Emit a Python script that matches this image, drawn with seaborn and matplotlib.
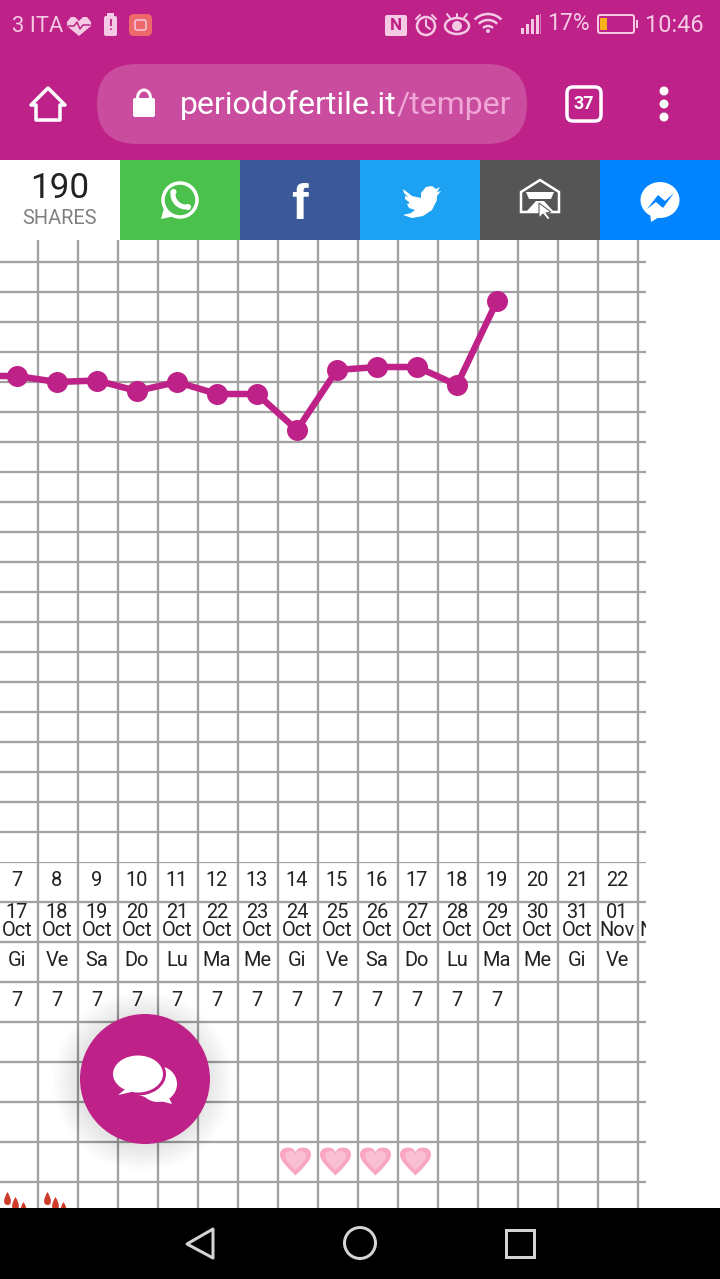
import matplotlib
matplotlib.use('Agg')
import matplotlib.pyplot as plt
from matplotlib.patches import Rectangle, Circle, Ellipse, Polygon, FancyBboxPatch, Arc
from matplotlib.path import Path
import numpy as np
import seaborn as sns

# chart values
line_days = [6, 7, 8, 9, 10, 11, 12, 13, 14, 15, 16, 17, 18, 19]
temps = [36.52, 36.52, 36.50, 36.505, 36.47, 36.50, 36.46, 36.46, 36.34, 36.54, 36.55, 36.55, 36.49, 36.77]

cycle_days = [7, 8, 9, 10, 11, 12, 13, 14, 15, 16, 17, 18, 19, 20, 21, 22, 23]
date_nums = ['17', '18', '19', '20', '21', '22', '23', '24', '25', '26', '27', '28', '29', '30', '31', '01', '02']
date_months = ['Oct'] * 15 + ['Nov', 'Nov']
weekdays = ['Gi', 'Ve', 'Sa', 'Do', 'Lu', 'Ma', 'Me', 'Gi', 'Ve', 'Sa', 'Do', 'Lu', 'Ma', 'Me', 'Gi', 'Ve', 'Sa']
row_sevens = ['7'] * 13 + [''] * 4
heart_days = [14, 15, 16, 17]
drop_days = [7, 8]

MAGENTA = '#be2187'
GRID = '#a2a2a2'
PINK_TXT = '#f4c9e4'
PX = 0.72  # points per pixel at dpi 100

sns.set_theme(style='white')
plt.rcParams['font.family'] = ['Roboto', 'DejaVu Sans']
plt.rcParams['patch.force_edgecolor'] = False

fig = plt.figure(figsize=(7.2, 12.79), dpi=100, facecolor='white')
W, H = 720, 1279


def px_axes(x0, y0, x1, y1):
    return fig.add_axes([x0 / W, 1 - y1 / H, (x1 - x0) / W, (y1 - y0) / H])


xlim = (7 - 17 / 40, 7 + 629 / 40)
grid_x = [d + 0.525 for d in cycle_days[:-1]]

# temperature grid, one line every 0.1 degrees
ax = px_axes(0, 240, 646, 862)
ax.set_xlim(xlim)
ax.set_ylim(36.5 + (382 - 862) / 300, 36.5 + (382 - 240) / 300)
ax.axis('off')
ax.vlines(grid_x, *ax.get_ylim(), color=GRID, lw=2.3 * PX, zorder=1)
ax.hlines(np.round(np.arange(35.0, 36.95, 0.1), 1), *xlim, color=GRID, lw=2.3 * PX, zorder=1)
sns.lineplot(x=line_days, y=temps, ax=ax, color=MAGENTA, linewidth=6.5 * PX, marker='o',
             markersize=21 * PX, markeredgewidth=0, zorder=3, legend=False)
ax.set_xlim(xlim)

# table under the chart
tab = px_axes(0, 862, 646, 1208)
tab.set_xlim(xlim)
tab.set_ylim((1208 - 862) / 40, 0)
tab.axis('off')
tab.vlines(grid_x, *tab.get_ylim(), color=GRID, lw=2.3 * PX, zorder=1)
tab.hlines(range(0, 9), *xlim, color=GRID, lw=2.3 * PX, zorder=1)

txt_kw = dict(ha='center', va='center', color='#222222', fontsize=20 * PX, clip_on=True)
for i, d in enumerate(cycle_days):
    tab.text(d, 0.47, str(d), **txt_kw)
    tab.text(d, 1.27, date_nums[i], **txt_kw)
    tab.text(d, 1.71, date_months[i], **txt_kw)
    tab.text(d, 2.47, weekdays[i], **txt_kw)
    tab.text(d, 3.47, row_sevens[i], **txt_kw)

heart = Path([(0, -0.9), (-0.55, -0.35), (-1.0, 0.05), (-1.0, 0.45), (-1.0, 0.8), (-0.7, 0.9), (-0.45, 0.9),
              (-0.25, 0.9), (-0.08, 0.8), (0, 0.6), (0.08, 0.8), (0.25, 0.9), (0.45, 0.9), (0.7, 0.9),
              (1.0, 0.8), (1.0, 0.45), (1.0, 0.05), (0.55, -0.35), (0, -0.9)],
             [1, 4, 4, 4, 4, 4, 4, 4, 4, 4, 4, 4, 4, 4, 4, 4, 4, 4, 4])
hx = [d - 0.04 for d in heart_days]
tab.scatter(hx, [7.47] * 4, marker=heart, s=(31 * PX) ** 2, color='#f8a6c2', linewidths=0, zorder=4)
tab.scatter(hx, [7.44] * 4, marker=heart, s=(21 * PX) ** 2, color='#f9c0d4', linewidths=0, zorder=5)

drop = Path([(0, 1), (0.7, -0.1), (0.7, -1), (0, -1), (-0.7, -1), (-0.7, -0.1), (0, 1)], [1, 4, 4, 4, 4, 4, 4])
for d in drop_days:
    tab.scatter([d - 0.24, d - 0.04, d + 0.16], [8.4, 8.52, 8.64], marker=drop, s=(13 * PX) ** 2,
                color='#cf3d2a', linewidths=0, zorder=5)

# phone chrome on top
ov = fig.add_axes([0, 0, 1, 1], zorder=5)
ov.set_xlim(0, W)
ov.set_ylim(H, 0)
ov.axis('off')


def rect(x0, y0, x1, y1, color, **kw):
    ov.add_patch(Rectangle((x0, y0), x1 - x0, y1 - y0, facecolor=color, edgecolor='none', **kw))


def rbox(x0, y0, x1, y1, r, fc='none', ec='none', lw=0):
    ov.add_patch(FancyBboxPatch((x0, y0), x1 - x0, y1 - y0, boxstyle='round,pad=0,rounding_size=%s' % r,
                                facecolor=fc, edgecolor=ec, linewidth=lw * PX))


rect(0, 0, 720, 160, MAGENTA)
rect(0, 1208, 720, 1279, 'black')

# status bar
ov.text(12, 26, '3 ITA', color=PINK_TXT, fontsize=22 * PX, va='center')
ov.add_patch(Polygon([(67, 22), (71, 17), (75, 17), (79, 21), (83, 17), (87, 17), (91, 22), (91, 26), (79, 36), (67, 26)],
                     facecolor=PINK_TXT))
ov.plot([68, 74, 77, 80, 83, 90], [26, 26, 22, 29, 25, 25], color=MAGENTA, lw=1.5 * PX)
rbox(104, 16, 117, 36, 2, fc=PINK_TXT)
rect(107, 13, 114, 16, PINK_TXT)
ov.text(110.5, 26, '!', color=MAGENTA, fontsize=14 * PX, fontweight='bold', ha='center', va='center')
rbox(129, 14, 152, 36, 5, fc='#ee6a6a')
rbox(135, 20, 146, 30, 2, ec=PINK_TXT, lw=1.5)

rbox(385, 15, 407, 36, 2, fc=PINK_TXT)
ov.text(396, 25.5, 'N', color=MAGENTA, fontsize=17 * PX, fontweight='bold', ha='center', va='center')
ov.add_patch(Circle((426, 26), 9, facecolor='none', edgecolor=PINK_TXT, lw=2.5 * PX))
ov.plot([426, 426, 430], [20, 26, 29], color=PINK_TXT, lw=2 * PX)
ov.plot([416, 420], [19, 15], color=PINK_TXT, lw=2 * PX)
ov.plot([432, 436], [15, 19], color=PINK_TXT, lw=2 * PX)
ov.add_patch(Ellipse((457, 26), 24, 16, facecolor='none', edgecolor=PINK_TXT, lw=2.5 * PX))
ov.add_patch(Circle((457, 26), 5, facecolor=PINK_TXT))
for x0, x1 in [(447, 450), (457, 457), (467, 464)]:
    ov.plot([x0, x1], [14, 18], color=PINK_TXT, lw=2 * PX)
for r in [7, 13, 19]:
    ov.add_patch(Arc((488, 33), 2 * r, 2 * r, theta1=225, theta2=315, color=PINK_TXT, lw=2.5 * PX))
ov.add_patch(Circle((488, 31), 2, facecolor=PINK_TXT))
for i, h in enumerate([6, 10, 15, 19]):
    rect(521 + i * 5, 34 - h, 524 + i * 5, 34, PINK_TXT)
rect(540, 14, 541, 34, '#d878b8')
ov.text(547, 23, '17%', color=PINK_TXT, fontsize=23 * PX, va='center')
rbox(598, 15, 634, 33, 2, ec=PINK_TXT, lw=2)
rect(636, 20, 638, 28, PINK_TXT)
rect(600, 18, 607, 30, '#f5b21c')
ov.text(645, 25, '10:46', color=PINK_TXT, fontsize=23.5 * PX, va='center')

# address bar
rbox(97, 64, 527, 144, 40, fc='#c94c9e')
ov.add_patch(Polygon([(31, 105), (48, 88), (65, 105), (60, 105), (60, 120), (36, 120), (36, 105)],
                     facecolor='none', edgecolor='white', lw=3.5 * PX, joinstyle='round'))
rbox(133, 98, 155, 117, 2, fc='white')
ov.add_patch(Arc((144, 98), 13, 16, theta1=180, theta2=360, color='white', lw=3 * PX))
ov.text(180, 105, 'periodofertile.it', color='white', fontsize=32 * PX, va='center')
ov.text(397, 105, '/temper', color='#f0a6d6', fontsize=32 * PX, va='center')
rbox(567, 87, 601, 121, 6, ec='white', lw=3.5)
ov.text(584, 104, '37', color='white', fontsize=18 * PX, fontweight='bold', ha='center', va='center')
for y in [91, 104, 117]:
    ov.add_patch(Circle((664, y), 4.5, facecolor='white'))

# share buttons
rect(120, 160, 240, 240, '#4cc04c')
rect(240, 160, 360, 240, '#3b5998')
rect(360, 160, 480, 240, '#1da1f2')
rect(480, 160, 600, 240, '#555555')
rect(600, 160, 720, 240, '#0084ff')
ov.text(60, 188, '190', color='#222222', fontsize=35 * PX, ha='center', va='center')
ov.text(60, 218, 'SHARES', color='#808080', fontsize=20 * PX, ha='center', va='center')

ov.add_patch(Polygon([(161, 219), (165, 205), (175, 216)], facecolor='white'))
ov.add_patch(Circle((180, 200), 17, facecolor='#4cc04c', edgecolor='white', lw=3.5 * PX))
ov.add_patch(Arc((186, 194), 26, 26, theta1=80, theta2=190, color='white', lw=5 * PX))
ov.add_patch(Circle((173.5, 192), 3, facecolor='white'))
ov.add_patch(Circle((188, 207), 3, facecolor='white'))
ov.text(299, 219, 'f', color='white', fontsize=50 * PX, fontweight='bold', family='Liberation Sans', ha='center', va='baseline')
ov.add_patch(Polygon([(403, 189), (412, 196), (421, 198), (421, 193), (426, 187), (432, 186), (436, 189), (440, 187),
                      (437, 192), (441, 191), (437, 196), (437, 200), (432, 210), (423, 216), (412, 218), (403, 215),
                      (411, 213), (415, 210), (409, 208), (407, 204), (410, 203), (405, 199), (405, 196), (408, 197),
                      (404, 193)], facecolor='white'))
ov.add_patch(Polygon([(521, 192), (540, 180), (559, 192), (559, 212), (521, 212)], facecolor='none', edgecolor='white', lw=2.5 * PX))
ov.add_patch(Polygon([(526, 192), (554, 192), (551, 199), (529, 199)], facecolor='white'))
ov.add_patch(Polygon([(526, 212), (536, 201), (544, 201), (554, 212)], facecolor='white'))
ov.add_patch(Polygon([(539, 203), (539, 218), (543, 214), (548, 220), (550, 218), (546, 213), (551, 212)],
                     facecolor='white', edgecolor='#555555', lw=1 * PX))
ov.add_patch(Ellipse((660, 200), 39, 36, facecolor='white'))
ov.add_patch(Polygon([(650, 212), (651, 222), (661, 216)], facecolor='white'))
ov.add_patch(Polygon([(647, 209), (658, 195), (665, 201), (674, 193), (663, 208), (656, 202)], facecolor='#0084ff'))

# chat button
for r in range(90, 64, -2):
    ov.add_patch(Circle((143, 1081), r, facecolor='black', edgecolor='none', alpha=0.006))
ov.add_patch(Circle((145, 1079), 65, facecolor=MAGENTA))
ov.add_patch(Ellipse((158, 1084), 38, 36, facecolor='white'))
ov.add_patch(Polygon([(138, 1095), (172, 1104), (166, 1092)], facecolor='white'))
ov.add_patch(Ellipse((138, 1074), 53, 40, facecolor='white', edgecolor=MAGENTA, lw=3 * PX))
ov.add_patch(Polygon([(118, 1095), (128, 1087), (136, 1091)], facecolor='white'))

# nav bar
NAV = '#d4d4d4'
ov.add_patch(Polygon([(187, 1244), (213, 1229), (213, 1258)], facecolor='none', edgecolor=NAV, lw=3 * PX, joinstyle='round'))
ov.add_patch(Circle((360, 1243), 15.5, facecolor='none', edgecolor=NAV, lw=3 * PX))
ov.add_patch(Rectangle((506, 1230), 28, 27, facecolor='none', edgecolor=NAV, lw=3 * PX))

fig.savefig('out.png', dpi=100)
